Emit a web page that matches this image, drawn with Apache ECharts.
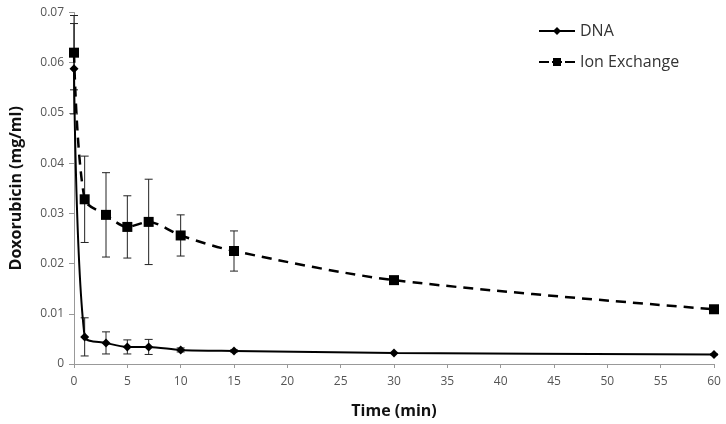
<!DOCTYPE html>
<html>
<head>
<meta charset="utf-8">
<script src="https://cdn.jsdelivr.net/npm/echarts@6/dist/echarts.min.js"></script>
<style>html,body{margin:0;padding:0;background:#fff;}#c{width:726px;height:424px;}</style>
</head>
<body>
<div id="c"></div>
<script>
var times = [0, 1, 3, 5, 7, 10, 15, 30, 60];
var dnaValues = [0.0588, 0.0054, 0.0042, 0.0034, 0.0034, 0.0028, 0.0026, 0.0022, 0.0019];
var dnaErrors = [0.0090, 0.0038, 0.0022, 0.0014, 0.0015, 0.0004, 0.0002, 0.0001, 0.0001];
var ionValues = [0.0620, 0.0328, 0.0297, 0.0273, 0.0283, 0.0256, 0.0225, 0.0167, 0.0109];
var ionErrors = [0.0074, 0.0086, 0.0084, 0.0062, 0.0085, 0.0041, 0.0040, 0.0004, 0.0004];
var xTicks = [0, 5, 10, 15, 20, 25, 30, 35, 40, 45, 50, 55, 60];
var yTicks = [0, 0.01, 0.02, 0.03, 0.04, 0.05, 0.06, 0.07];

function pairs(vals) { return times.map(function (t, i) { return [t, vals[i]]; }); }
function errData(vals, errs) {
  return times.map(function (t, i) { return [t, vals[i] - errs[i], vals[i] + errs[i]]; });
}
function renderErr(params, api) {
  var lo = api.coord([api.value(0), api.value(1)]);
  var hi = api.coord([api.value(0), api.value(2)]);
  var w = 4;
  var st = { stroke: '#222', lineWidth: 1 };
  return {
    type: 'group',
    children: [
      { type: 'line', shape: { x1: lo[0], y1: lo[1], x2: hi[0], y2: hi[1] }, style: st },
      { type: 'line', shape: { x1: lo[0] - w, y1: lo[1], x2: lo[0] + w, y2: lo[1] }, style: st },
      { type: 'line', shape: { x1: hi[0] - w, y1: hi[1], x2: hi[0] + w, y2: hi[1] }, style: st }
    ]
  };
}
var font = '"Open Sans", Lato, sans-serif';
var chart = echarts.init(document.getElementById('c'), null, { renderer: 'canvas' });
chart.setOption({
  animation: false,
  textStyle: { fontFamily: font },
  grid: { left: 73, right: 12, top: 12.5, bottom: 59, containLabel: false },
  legend: {
    orient: 'vertical', left: 533, top: 18, itemGap: 15,
    itemWidth: 36, itemHeight: 10,
    textStyle: { fontFamily: font, fontSize: 16, color: '#333' },
    data: [
      { name: 'DNA' },
      { name: 'Ion Exchange', lineStyle: { type: [10, 3] } }
    ]
  },
  xAxis: {
    type: 'value', min: xTicks[0], max: xTicks[xTicks.length - 1], interval: 5,
    name: 'Time (min)', nameLocation: 'middle', nameGap: 39,
    nameTextStyle: { fontFamily: font, fontSize: 16, fontWeight: 'bold', color: '#111' },
    axisLine: { lineStyle: { color: '#999', width: 1 } },
    axisTick: { show: true, length: 4, inside: false, lineStyle: { color: '#999' } },
    axisLabel: { fontSize: 12, color: '#555', margin: 12 },
    splitLine: { show: false }
  },
  yAxis: {
    type: 'value', min: yTicks[0], max: yTicks[yTicks.length - 1], interval: 0.01,
    name: 'Doxorubicin (mg/ml)', nameLocation: 'middle', nameGap: 50,
    nameTextStyle: { fontFamily: font, fontSize: 16, fontWeight: 'bold', color: '#111' },
    axisLine: { show: true, lineStyle: { color: '#999', width: 1 } },
    axisTick: { show: true, length: 5, lineStyle: { color: '#999' } },
    axisLabel: { fontSize: 12, color: '#555', margin: 10 },
    splitLine: { show: false }
  },
  series: [
    { type: 'custom', name: 'dnaErr', renderItem: renderErr, data: errData(dnaValues, dnaErrors), z: 1, silent: true },
    { type: 'custom', name: 'ionErr', renderItem: renderErr, data: errData(ionValues, ionErrors), z: 1, silent: true },
    {
      type: 'line', name: 'DNA', data: pairs(dnaValues), smooth: 0.3,
      symbol: 'diamond', symbolSize: 9,
      lineStyle: { color: '#000', width: 2 }, itemStyle: { color: '#000' }, z: 3
    },
    {
      type: 'line', name: 'Ion Exchange', data: pairs(ionValues), smooth: 0.3,
      symbol: 'rect', symbolSize: 10,
      lineStyle: { color: '#000', width: 2.5, type: [10, 7] }, itemStyle: { color: '#000' }, z: 3
    }
  ]
});
</script>
</body>
</html>
